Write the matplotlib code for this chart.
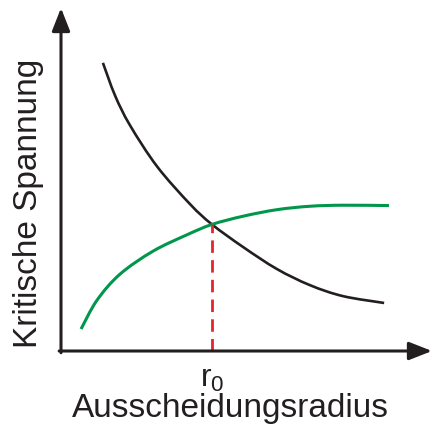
import matplotlib
matplotlib.use("Agg")
import matplotlib.pyplot as plt
from matplotlib.path import Path
from matplotlib.patches import PathPatch

plt.rcParams["font.family"] = ["Liberation Sans", "DejaVu Sans"]
plt.rcParams["mathtext.fontset"] = "custom"
plt.rcParams["mathtext.rm"] = "Liberation Sans"
plt.rcParams["mathtext.default"] = "regular"

# (arbitrary units, axis runs 0..10)
radius_black = [1.13, 1.46, 1.86, 2.59, 3.48, 4.07, 4.91, 5.82, 6.71, 7.60, 8.71]
stress_black = [8.40, 7.44, 6.58, 5.38, 4.28, 3.69, 3.03, 2.39, 1.92, 1.60, 1.40]

radius_green = [0.54, 0.97, 1.59, 2.48, 3.40, 4.07, 4.91, 5.82, 6.71, 7.60, 8.84]
stress_green = [0.64, 1.48, 2.24, 2.91, 3.39, 3.69, 3.93, 4.12, 4.22, 4.25, 4.24]

r0 = 4.07
stress_r0 = 3.69

axis_color = "#231f20"


def smooth_path(xs, ys):
    # Catmull-Rom through the read points, drawn as cubic bezier segments
    pts = list(zip(xs, ys))
    verts = [pts[0]]
    codes = [Path.MOVETO]
    for i in range(len(pts) - 1):
        p0 = pts[max(i - 1, 0)]
        p1 = pts[i]
        p2 = pts[i + 1]
        p3 = pts[min(i + 2, len(pts) - 1)]
        c1 = (p1[0] + (p2[0] - p0[0]) / 6, p1[1] + (p2[1] - p0[1]) / 6)
        c2 = (p2[0] - (p3[0] - p1[0]) / 6, p2[1] - (p3[1] - p1[1]) / 6)
        verts += [c1, c2, p2]
        codes += [Path.CURVE4] * 3
    return Path(verts, codes)


fig = plt.figure(figsize=(4.32, 4.26), dpi=100)
ax = fig.add_axes([61 / 432, 75 / 426, 371 / 432, 343 / 426])
ax.set_xlim(0, 10)
ax.set_ylim(0, 10)
ax.axis("off")

ax.add_patch(PathPatch(smooth_path(radius_black, stress_black), fill=False,
                       edgecolor=axis_color, lw=1.9, capstyle="butt"))
ax.add_patch(PathPatch(smooth_path(radius_green, stress_green), fill=False,
                       edgecolor="#00964b", lw=2.2, capstyle="butt"))
ax.plot([r0, r0], [0, stress_r0], color="#e3262d", lw=2.0, dashes=(4.5, 2.6))

arrow = dict(arrowstyle="-|>,head_length=1.4,head_width=0.55", lw=2.2,
             color=axis_color, shrinkA=0, shrinkB=0)
ax.annotate("", xy=(0, 10), xytext=(0, -0.05), arrowprops=arrow,
            annotation_clip=False)
ax.annotate("", xy=(10, 0), xytext=(-0.05, 0), arrowprops=arrow,
            annotation_clip=False)

fig.text(212 / 432, 1 - 387 / 426, "r$_0$", fontsize=23, ha="center",
         va="baseline", color=axis_color)
fig.text(230 / 432, 1 - 417 / 426, "Ausscheidungsradius", fontsize=24,
         ha="center", va="baseline", color=axis_color)
fig.text(29 / 432, 1 - 203 / 426, "Kritische Spannung", fontsize=24,
         rotation=90, ha="center", va="center", color=axis_color)

fig.savefig("out.png", dpi=100)
